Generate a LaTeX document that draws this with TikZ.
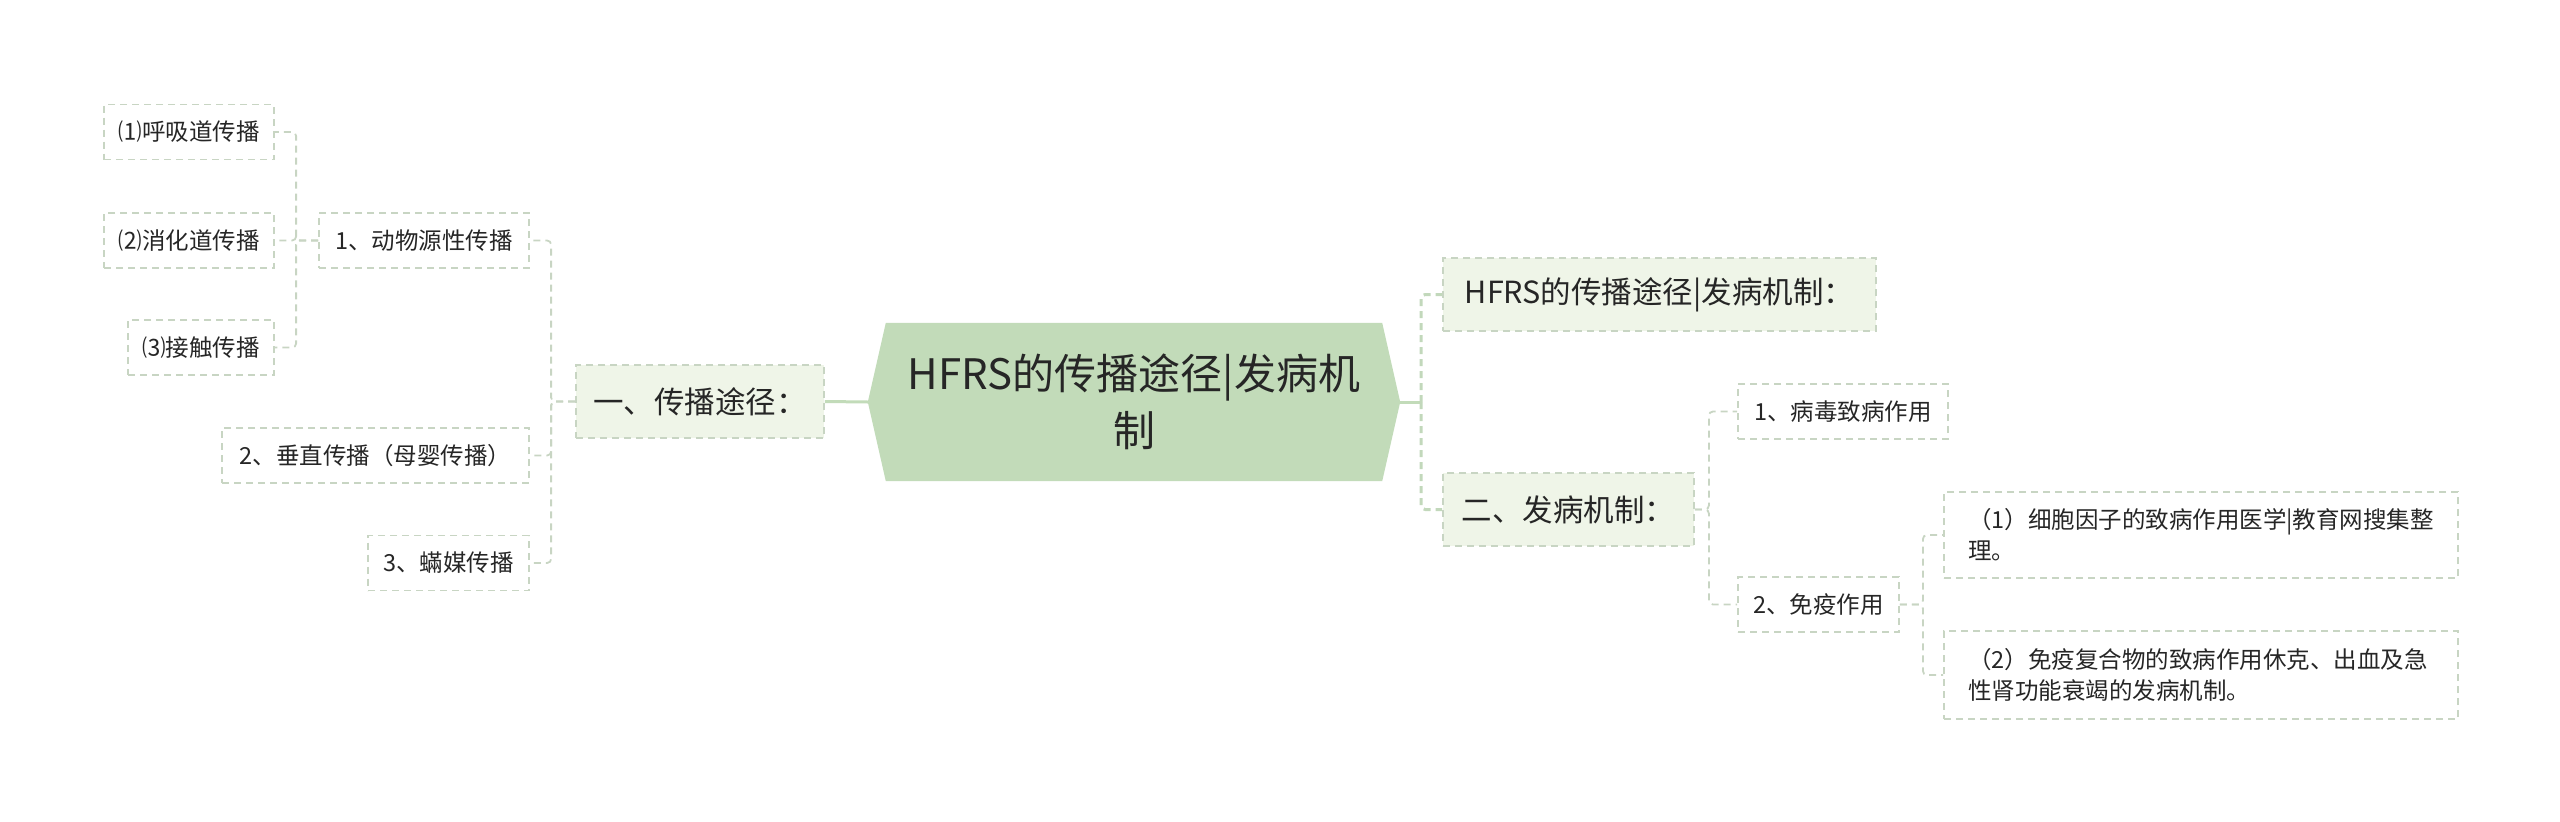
\documentclass[tikz,border=0pt]{standalone}
\usepackage{fontspec}
\setmainfont{Noto Sans CJK SC}
\usetikzlibrary{backgrounds}
\definecolor{bordercol}{HTML}{C8D5C3}
\definecolor{hexfill}{HTML}{C2DBB9}
\definecolor{lvlfill}{HTML}{EFF5E8}
\definecolor{txt}{HTML}{262626}
\definecolor{trunkcol}{HTML}{C2D8BB}
\tikzset{
  leaf/.style={draw=bordercol, line width=1.8pt, dash pattern=on 7pt off 5pt, inner sep=0pt,
    minimum height=55pt, text=txt, font=\fontsize{23.5}{31}\selectfont},
  lvl/.style={leaf, fill=lvlfill, minimum height=73pt, font=\fontsize{30.5}{38}\selectfont},
  longleaf/.style={leaf, minimum width=514pt, text width=466pt, align=left},
  conn/.style={draw=bordercol, line width=1.8pt, dash pattern=on 7pt off 5pt, rounded corners=4pt},
  trunk/.style={draw=trunkcol, line width=3pt, dash pattern=on 7pt off 5pt, rounded corners=4pt},
  solidlink/.style={draw=hexfill, line width=3pt},
  centre/.style={minimum width=532pt, minimum height=158pt, inner sep=0pt, align=center,
    text=txt, font=\fontsize{42}{57}\selectfont}
}
\begin{document}
\begin{tikzpicture}[x=1pt,y=-1pt]
\useasboundingbox (0,0) rectangle (2560,822);

% centre
\node[centre] (hex) at (1134,402) {HFRS的传播途径|发病机\\制};
\begin{scope}[on background layer]
\fill[hexfill] (hex.west) -- ([xshift=18pt]hex.north west) -- ([xshift=-18pt]hex.north east)
  -- (hex.east) -- ([xshift=-18pt]hex.south east) -- ([xshift=18pt]hex.south west) -- cycle;
\end{scope}

% left side
\node[lvl, minimum width=248pt] (L1) at (700,401.5) {一、传播途径：};
\node[leaf, minimum width=210pt] (n1) at (424,240.5) {1、动物源性传播};
\node[leaf, minimum width=307pt] (n2) at (375.5,455.5) {2、垂直传播（母婴传播）};
\node[leaf, minimum width=161pt] (n3) at (448.5,563) {3、蟎媒传播};
\node[leaf, minimum width=170pt] (n11) at (189,132) {⑴呼吸道传播};
\node[leaf, minimum width=170pt] (n12) at (189,240.5) {⑵消化道传播};
\node[leaf, minimum width=146pt] (n13) at (201,347.5) {⑶接触传播};

% right side
\node[lvl, minimum width=433pt] (R1) at (1659.5,294.5) {HFRS的传播途径|发病机制：};
\node[lvl, minimum width=251pt] (R2) at (1568.5,509.5) {二、发病机制：};
\node[leaf, minimum width=210pt] (r1) at (1843,411.5) {1、病毒致病作用};
\node[leaf, minimum width=161pt] (r2) at (1818.5,604.5) {2、免疫作用};
\node[longleaf, minimum height=86pt] (s1) at (2201,535) {（1）细胞因子的致病作用医学|教育网搜集整\\理。};
\node[longleaf, minimum height=88pt] (s2) at (2201,675) {（2）免疫复合物的致病作用休克、出血及急\\性肾功能衰竭的发病机制。};

% connectors left
\draw[solidlink] (hex.west) -- (L1.east);
\draw[conn] (L1.west) -- ([xshift=-24pt]L1.west) |- (n1.east);
\draw[conn] (L1.west) -- ([xshift=-24pt]L1.west) |- (n2.east);
\draw[conn] (L1.west) -- ([xshift=-24pt]L1.west) |- (n3.east);
\draw[conn] (n1.west) -- ([xshift=-22pt]n1.west) |- (n11.east);
\draw[conn] (n1.west) -- ([xshift=-22pt]n1.west) |- (n12.east);
\draw[conn] (n1.west) -- ([xshift=-22pt]n1.west) |- (n13.east);

% connectors right
\draw[solidlink] (hex.east) -- ([xshift=21pt]hex.east);
\draw[trunk] ([xshift=21pt]hex.east) |- (R1.west);
\draw[trunk] ([xshift=21pt]hex.east) |- (R2.west);
\draw[conn] (R2.east) -- ([xshift=14pt]R2.east) |- (r1.west);
\draw[conn] (R2.east) -- ([xshift=14pt]R2.east) |- (r2.west);
\draw[conn] (r2.east) -- ([xshift=23pt]r2.east) |- (s1.west);
\draw[conn] (r2.east) -- ([xshift=23pt]r2.east) |- (s2.west);
\end{tikzpicture}
\end{document}
